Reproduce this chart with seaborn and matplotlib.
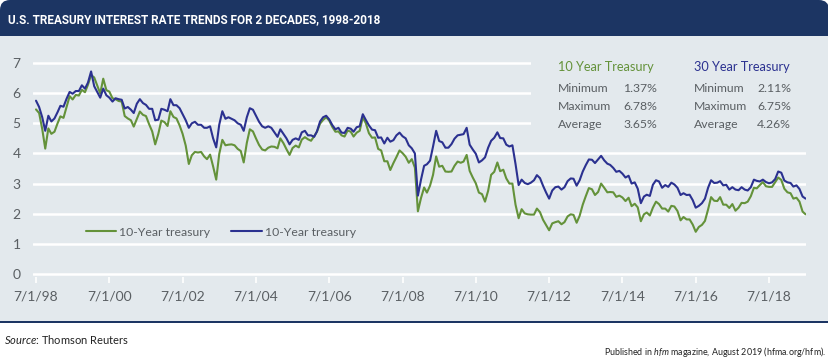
import matplotlib
matplotlib.use("Agg")
import matplotlib.pyplot as plt
import matplotlib.dates as mdates
from matplotlib.patches import FancyBboxPatch, Rectangle
import pandas as pd
import seaborn as sns

# Monthly yields, Jul 1998 - Jul 2019
ten_year = [
    5.46, 5.34, 4.81, 4.16, 4.83, 4.65,
    4.72, 5.00, 5.23, 5.18, 5.54, 5.90, 5.79, 5.94, 5.92, 6.11, 6.03, 6.28,
    6.60, 6.52, 6.26, 5.99, 6.48, 6.10, 6.05, 5.83, 5.80, 5.74, 5.72, 5.24,
    5.16, 5.10, 4.89, 5.14, 5.39, 5.28, 5.24, 4.97, 4.73, 4.30, 4.65, 5.09,
    5.04, 4.91, 5.40, 5.21, 5.16, 4.93, 4.65, 4.26, 3.65, 3.94, 4.05, 4.03,
    4.05, 3.90, 3.81, 3.96, 3.57, 3.13, 3.98, 4.45, 4.27, 4.29, 4.30, 4.27,
    4.15, 4.08, 3.70, 4.35, 4.80, 4.73, 4.50, 4.28, 4.13, 4.10, 4.19, 4.23,
    4.22, 4.17, 4.50, 4.34, 4.14, 3.95, 4.18, 4.26, 4.20, 4.46, 4.54, 4.47,
    4.42, 4.57, 4.72, 4.99, 5.11, 5.20, 5.09, 4.88, 4.72, 4.73, 4.60, 4.56,
    4.76, 4.72, 4.56, 4.69, 4.75, 5.20, 5.00, 4.67, 4.52, 4.53, 4.15, 4.10,
    3.74, 3.74, 3.45, 3.68, 3.88, 4.10, 4.01, 3.89, 3.69, 3.81, 3.53, 2.08,
    2.52, 2.87, 2.70, 2.93, 3.29, 3.90, 3.56, 3.59, 3.40, 3.39, 3.40, 3.59,
    3.73, 3.69, 3.73, 3.95, 3.42, 3.20, 3.01, 2.70, 2.65, 2.40, 2.76, 3.29,
    3.39, 3.70, 3.41, 3.46, 3.17, 3.00, 3.00, 2.30, 1.85, 2.15, 2.01, 1.98,
    1.97, 1.97, 2.17, 2.05, 1.80, 1.62, 1.45, 1.68, 1.72, 1.75, 1.65, 1.72,
    1.91, 1.98, 1.96, 1.70, 1.93, 2.30, 2.58, 2.85, 2.81, 2.62, 2.72, 3.00,
    2.86, 2.71, 2.72, 2.71, 2.56, 2.60, 2.54, 2.42, 2.53, 2.25, 2.33, 2.21,
    1.75, 1.98, 2.04, 1.94, 2.20, 2.40, 2.32, 2.17, 2.17, 2.07, 2.26, 2.24,
    2.09, 1.78, 1.89, 1.81, 1.81, 1.64, 1.40, 1.56, 1.63, 1.76, 2.14, 2.55,
    2.43, 2.42, 2.55, 2.30, 2.30, 2.19, 2.32, 2.10, 2.20, 2.36, 2.35, 2.40,
    2.58, 2.86, 2.84, 2.95, 3.05, 2.91, 2.89, 2.89, 3.05, 3.20, 3.12, 2.83,
    2.71, 2.68, 2.50, 2.53, 2.40, 2.07, 1.98,
]
thirty_year = [
    5.75, 5.54, 5.20, 4.75, 5.25, 5.06,
    5.16, 5.37, 5.58, 5.55, 5.81, 6.04, 5.98, 6.07, 6.07, 6.26, 6.15, 6.35,
    6.72, 6.23, 6.05, 5.85, 6.15, 5.93, 5.85, 5.72, 5.83, 5.80, 5.78, 5.49,
    5.54, 5.45, 5.34, 5.65, 5.80, 5.67, 5.61, 5.48, 5.48, 5.10, 5.12, 5.48,
    5.45, 5.40, 5.80, 5.60, 5.60, 5.50, 5.30, 5.10, 4.85, 5.00, 5.05, 4.95,
    4.95, 4.85, 4.85, 4.90, 4.50, 4.20, 4.95, 5.40, 5.15, 5.20, 5.15, 5.10,
    5.00, 4.95, 4.75, 5.20, 5.50, 5.45, 5.25, 5.05, 4.90, 4.85, 4.90, 4.85,
    4.70, 4.55, 4.80, 4.65, 4.50, 4.30, 4.45, 4.50, 4.45, 4.70, 4.75, 4.60,
    4.60, 4.55, 4.73, 5.06, 5.20, 5.25, 5.13, 4.94, 4.80, 4.85, 4.69, 4.68,
    4.85, 4.82, 4.72, 4.87, 4.90, 5.30, 5.11, 4.93, 4.79, 4.77, 4.52, 4.53,
    4.33, 4.52, 4.39, 4.44, 4.60, 4.69, 4.57, 4.50, 4.27, 4.17, 4.00, 2.60,
    3.13, 3.59, 3.64, 3.76, 4.23, 4.75, 4.41, 4.37, 4.19, 4.19, 4.31, 4.49,
    4.60, 4.62, 4.64, 4.85, 4.29, 4.13, 3.99, 3.70, 3.77, 3.87, 4.19, 4.42,
    4.52, 4.70, 4.51, 4.50, 4.29, 4.23, 4.27, 3.65, 2.95, 3.13, 3.02, 2.98,
    3.03, 3.11, 3.28, 3.18, 2.93, 2.70, 2.50, 2.77, 2.88, 2.90, 2.80, 2.88,
    3.08, 3.17, 3.16, 2.93, 3.11, 3.40, 3.61, 3.80, 3.79, 3.68, 3.80, 3.92,
    3.77, 3.66, 3.62, 3.52, 3.39, 3.42, 3.33, 3.20, 3.26, 3.00, 3.04, 2.83,
    2.35, 2.57, 2.63, 2.59, 2.96, 3.11, 3.07, 2.86, 2.95, 2.89, 3.03, 2.97,
    2.86, 2.62, 2.68, 2.62, 2.63, 2.45, 2.20, 2.26, 2.35, 2.50, 2.86, 3.11,
    3.02, 3.03, 3.08, 2.94, 2.96, 2.80, 2.88, 2.80, 2.78, 2.88, 2.80, 2.77,
    2.88, 3.13, 3.09, 3.07, 3.13, 3.05, 3.01, 3.04, 3.15, 3.40, 3.36, 3.10,
    3.04, 3.02, 2.90, 2.94, 2.82, 2.57, 2.50,
]
tick_years = [1998, 2000, 2002, 2004, 2006, 2008, 2010, 2012, 2014, 2016, 2018]
stat_labels = ["Minimum", "Maximum", "Average"]
ten_stats = ["1.37%", "6.78%", "3.65%"]
thirty_stats = ["2.11%", "6.75%", "4.26%"]

GREEN = "#64923a"
NAVY = "#2b3190"
HEADER = "#1c3563"
PANEL = "#e3e9ed"
GRAY = "#5a5f63"

sns.set_theme(style="white")
plt.rcParams["font.family"] = ["Lato", "DejaVu Sans"]
plt.rcParams["mathtext.fontset"] = "custom"
plt.rcParams["mathtext.it"] = "Lato:italic"
plt.rcParams["mathtext.rm"] = "Lato"

dates = pd.date_range("1998-07-01", periods=len(ten_year), freq="MS")
df = pd.DataFrame({"date": dates, "ten": ten_year, "thirty": thirty_year})

fig = plt.figure(figsize=(8.29, 3.59), dpi=100)
fig.patch.set_facecolor("white")

# header band with rounded top, then panel (behind the axes)
tr = fig.dpi_scale_trans
fig.patches.append(FancyBboxPatch((0.0, 3.05), 8.29, 0.54, boxstyle="round,pad=0,rounding_size=0.1",
                                  transform=tr, facecolor=HEADER, edgecolor="none", zorder=-3))
fig.patches.append(Rectangle((0, 0.38), 8.29, 2.85, transform=tr, facecolor=PANEL,
                             edgecolor="none", zorder=-2))
fig.patches.append(Rectangle((0, 0.36), 8.29, 0.02, transform=tr, facecolor=HEADER,
                             edgecolor="none", zorder=-2))

fig.text(8 / 829, 1 - 20 / 359, "U.S. TREASURY INTEREST RATE TRENDS FOR 2 DECADES, 1998-2018",
         color="white", fontsize=8.5, fontweight="bold", va="center", ha="left",
         family=["Liberation Sans Narrow", "Roboto"])

ax = fig.add_axes([33 / 829, 0.2284, 773 / 829, 0.6045])
ax.patch.set_alpha(0)
for s in ax.spines.values():
    s.set_visible(False)

sns.lineplot(data=df, x="date", y="ten", ax=ax, color=GREEN, lw=1.5, label="10-Year treasury", zorder=3)
sns.lineplot(data=df, x="date", y="thirty", ax=ax, color=NAVY, lw=1.5, label="10-Year treasury", zorder=4)

ax.set_ylim(-0.1, 7.1)
ax.set_xlim(pd.Timestamp("1998-06-01"), pd.Timestamp("2019-07-05"))
ax.set_yticks(range(0, 8))
ax.set_xticks([pd.Timestamp(f"{y}-07-01") for y in tick_years])
ax.set_xticklabels([f"7/1/{str(y)[2:]}" for y in tick_years])
ax.set_xlabel("")
ax.set_ylabel("")
ax.yaxis.grid(True, color="white", lw=1.8)
ax.set_axisbelow(True)
ax.tick_params(axis="y", length=0, pad=9, labelsize=10, labelcolor=GRAY)
ax.tick_params(axis="x", length=4, width=1.2, color="white", pad=6, labelsize=10, labelcolor=GRAY,
               bottom=True, direction="out")

# cover gridlines behind the stats block
ax.add_patch(Rectangle((mdates.date2num(pd.Timestamp("2012-01-05")), 4.6), 4000, 3.0,
                       facecolor=PANEL, edgecolor="none", zorder=1))

leg = ax.legend(loc="center left", bbox_to_anchor=(0.068, 0.207), ncol=2, frameon=False,
                handlelength=2.5, handletextpad=0.25, columnspacing=1.7, borderpad=0,
                borderaxespad=0, fontsize=8.8)
for t in leg.get_texts():
    t.set_color(GRAY)

# stats block
fig.text(558 / 829, 1 - 67 / 359, "10 Year Treasury", color=GREEN, fontsize=9.2, va="center")
fig.text(694 / 829, 1 - 67 / 359, "30 Year Treasury", color=NAVY, fontsize=9.2, va="center")
for i, lab in enumerate(stat_labels):
    yy = 1 - (88 + i * 18) / 359
    fig.text(558 / 829, yy, lab, color=GRAY, fontsize=8.8, va="center")
    fig.text(657 / 829, yy, ten_stats[i], color=GRAY, fontsize=8.8, va="center", ha="right")
    fig.text(694 / 829, yy, lab, color=GRAY, fontsize=8.8, va="center")
    fig.text(791 / 829, yy, thirty_stats[i], color=GRAY, fontsize=8.8, va="center", ha="right")

fig.text(4 / 829, 1 - 340 / 359, r"$\it{Source}$: Thomson Reuters", color="#222222", fontsize=8, va="center")
fig.text(826 / 829, 1 - 352 / 359, r"Published in $\it{hfm}$ magazine, August 2019 (hfma.org/hfm).",
         color="#222222", fontsize=6.4, va="center", ha="right")

fig.savefig("out.png", dpi=100)
plt.close()
